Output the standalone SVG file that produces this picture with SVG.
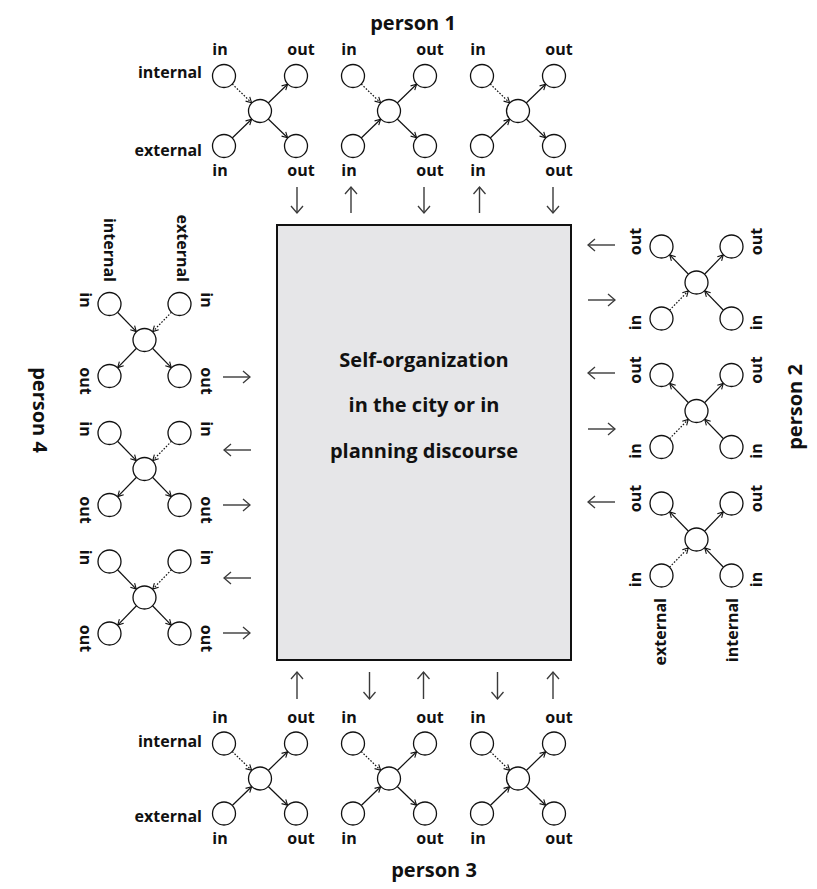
<svg xmlns="http://www.w3.org/2000/svg" xmlns:xlink="http://www.w3.org/1999/xlink" width="817" height="889" viewBox="0 0 817 889">
  <style>
    .lbl { font-family: "Open Sans", "Liberation Sans", sans-serif; font-weight: 700; font-size: 16px; fill: #111; }
    .ttl { font-family: "Open Sans", "Liberation Sans", sans-serif; font-weight: 700; font-size: 20px; fill: #111; }
    .core { font-family: "Open Sans", "Liberation Sans", sans-serif; font-weight: 700; font-size: 20px; fill: #111; text-anchor: middle; }
    .mid { text-anchor: middle; }
    .end { text-anchor: end; }
    .ring { fill: #fff; stroke: #111; stroke-width: 1.3; }
    .link { stroke: #111; stroke-width: 1.2; fill: none; marker-end: url(#tip); }
    .dot { stroke-dasharray: 1.6 1.6; }
    .flow { stroke: #3a3a3a; stroke-width: 1.4; fill: none; marker-end: url(#head); }
  </style>
  <defs>
    <marker id="tip" viewBox="0 0 8 8" refX="6.5" refY="4" markerWidth="8" markerHeight="8" markerUnits="userSpaceOnUse" orient="auto">
      <path d="M1,1 L6.5,4 L1,7" fill="none" stroke="#111" stroke-width="1.1"/>
    </marker>
    <marker id="head" viewBox="0 0 10 14" refX="8" refY="7" markerWidth="10" markerHeight="14" markerUnits="userSpaceOnUse" orient="auto">
      <path d="M1,1 L8,7 L1,13" fill="none" stroke="#3a3a3a" stroke-width="1.3"/>
    </marker>
    <!-- one exchange unit: two inputs, a hub, two outputs -->
    <g id="unit">
      <line class="link dot" x1="-27.75" y1="-26.98" x2="-8.4" y2="-8.2"/>
      <line class="link" x1="-27.75" y1="26.98" x2="-8.4" y2="8.2"/>
      <line class="link" x1="8.25" y1="-8.02" x2="27.6" y2="-26.8"/>
      <line class="link" x1="8.25" y1="8.02" x2="27.6" y2="26.8"/>
      <circle class="ring" cx="-36" cy="-35" r="11.5"/>
      <circle class="ring" cx="-36" cy="35" r="11.5"/>
      <circle class="ring" cx="0" cy="0" r="11.5"/>
      <circle class="ring" cx="36" cy="-35" r="11.5"/>
      <circle class="ring" cx="36" cy="35" r="11.5"/>
      <text class="lbl mid" x="-40" y="-56">in</text>
      <text class="lbl mid" x="41" y="-56">out</text>
      <text class="lbl mid" x="-40" y="65">in</text>
      <text class="lbl mid" x="41" y="65">out</text>
    </g>
  </defs>

  <!-- shared field -->
  <g id="field">
    <rect x="277" y="225" width="294" height="435" fill="#e6e6e8" stroke="#111" stroke-width="2"/>
    <text class="core" x="424" y="367">Self-organization</text>
    <text class="core" x="424" y="412">in the city or in</text>
    <text class="core" x="424" y="458">planning discourse</text>
  </g>

  <!-- person 1 (top) -->
  <g id="person1">
    <text class="ttl mid" x="413" y="30">person 1</text>
    <g id="p1-u1"><use xlink:href="#unit" transform="translate(260,111)"/>
      <text class="lbl end" x="202" y="78">internal</text>
      <text class="lbl end" x="202" y="156">external</text>
    </g>
    <g id="p1-u2"><use xlink:href="#unit" transform="translate(389,111)"/></g>
    <g id="p1-u3"><use xlink:href="#unit" transform="translate(518,111)"/></g>
  </g>

  <!-- person 3 (bottom) -->
  <g id="person3">
    <text class="ttl mid" x="434" y="877">person 3</text>
    <g id="p3-u1"><use xlink:href="#unit" transform="translate(260,778.5)"/>
      <text class="lbl end" x="202" y="746.5">internal</text>
      <text class="lbl end" x="202" y="822">external</text>
    </g>
    <g id="p3-u2"><use xlink:href="#unit" transform="translate(389,778.5)"/></g>
    <g id="p3-u3"><use xlink:href="#unit" transform="translate(518,778.5)"/></g>
  </g>

  <!-- person 4 (left) -->
  <g id="person4">
    <text class="ttl mid" transform="translate(33,410) rotate(90)">person 4</text>
    <g id="p4-u1"><use xlink:href="#unit" transform="translate(144.5,340) rotate(90)"/>
      <text class="lbl end" transform="translate(104,282) rotate(90)">internal</text>
      <text class="lbl end" transform="translate(177,282) rotate(90)">external</text>
    </g>
    <g id="p4-u2"><use xlink:href="#unit" transform="translate(144.5,469) rotate(90)"/></g>
    <g id="p4-u3"><use xlink:href="#unit" transform="translate(144.5,597.5) rotate(90)"/></g>
  </g>

  <!-- person 2 (right) -->
  <g id="person2">
    <text class="ttl mid" transform="translate(802,407) rotate(-90)">person 2</text>
    <g id="p2-u1"><use xlink:href="#unit" transform="translate(696.5,282.5) rotate(-90)"/></g>
    <g id="p2-u2"><use xlink:href="#unit" transform="translate(696.5,411) rotate(-90)"/></g>
    <g id="p2-u3"><use xlink:href="#unit" transform="translate(696.5,539.5) rotate(-90)"/>
      <text class="lbl end" transform="translate(666,598) rotate(-90)">external</text>
      <text class="lbl end" transform="translate(738,598) rotate(-90)">internal</text>
    </g>
  </g>

  <!-- exchanges between persons and the field -->
  <g id="connectors">
    <line class="flow" x1="297" y1="187" x2="297" y2="213"/>
    <line class="flow" x1="351" y1="213" x2="351" y2="187"/>
    <line class="flow" x1="424" y1="187" x2="424" y2="213"/>
    <line class="flow" x1="479.5" y1="213" x2="479.5" y2="187"/>
    <line class="flow" x1="553" y1="187" x2="553" y2="213"/>

    <line class="flow" x1="297" y1="699" x2="297" y2="672"/>
    <line class="flow" x1="369.5" y1="672" x2="369.5" y2="699"/>
    <line class="flow" x1="423.5" y1="699" x2="423.5" y2="672"/>
    <line class="flow" x1="497.5" y1="672" x2="497.5" y2="699"/>
    <line class="flow" x1="553" y1="699" x2="553" y2="672"/>

    <line class="flow" x1="223" y1="377" x2="250" y2="377"/>
    <line class="flow" x1="251" y1="450" x2="224" y2="450"/>
    <line class="flow" x1="223" y1="505" x2="250" y2="505"/>
    <line class="flow" x1="251" y1="578" x2="224" y2="578"/>
    <line class="flow" x1="223" y1="633" x2="250" y2="633"/>

    <line class="flow" x1="615" y1="245" x2="588" y2="245"/>
    <line class="flow" x1="588" y1="300" x2="615" y2="300"/>
    <line class="flow" x1="615" y1="373" x2="588" y2="373"/>
    <line class="flow" x1="588" y1="429" x2="615" y2="429"/>
    <line class="flow" x1="615" y1="502" x2="588" y2="502"/>
  </g>
</svg>
